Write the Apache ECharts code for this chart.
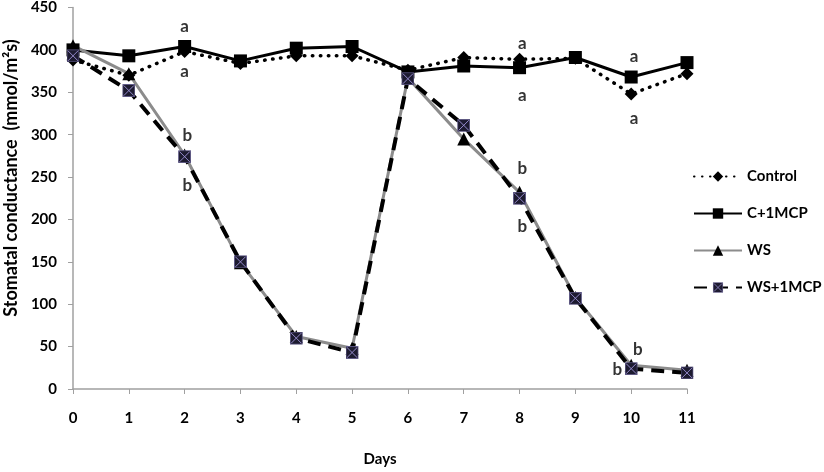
<!DOCTYPE html>
<html>
<head>
<meta charset="utf-8">
<script src="https://cdn.jsdelivr.net/npm/echarts@6/dist/echarts.min.js"></script>
<style>
  html, body { margin: 0; padding: 0; background: #fff; }
  #chart { width: 824px; height: 472px; }
</style>
</head>
<body>
<div id="chart"></div>
<script>
const days = [0, 1, 2, 3, 4, 5, 6, 7, 8, 9, 10, 11];
const control = [388, 370, 398, 384, 393, 393, 376, 391, 389, 390, 348, 372];
const c1mcp = [400, 393, 404, 387, 402, 404, 374, 381, 379, 391, 368, 385];
const ws = [405, 372, 276, 149, 62, 48, 367, 295, 232, 108, 28, 22];
const ws1mcp = [393, 352, 274, 150, 60, 43, 366, 311, 225, 107, 24, 19];

// significance letters: [day, value, letter]
const letters = [
  [2, 427, "a"], [2, 374, "a"], [2.05, 299, "b"], [2.05, 240, "b"],
  [8.05, 408, "a"], [8.05, 346, "a"], [8.05, 260, "b"], [8.05, 192, "b"],
  [10.05, 392, "a"], [10.05, 319, "a"], [10.12, 46, "b"], [9.75, 23, "b"],
];

const FONT = "Lato";
const pairs = (vals) => days.map((d, i) => [d, vals[i]]);

const xSquare = "image://data:image/svg+xml;charset=utf-8," + encodeURIComponent(
  "<svg xmlns='http://www.w3.org/2000/svg' width='14' height='14'>" +
  "<rect x='0.5' y='0.5' width='13' height='13' fill='#1d1b30' stroke='#5e5888'/>" +
  "<path d='M1.5 1.5L12.5 12.5M12.5 1.5L1.5 12.5' stroke='#9d92d6' stroke-width='1'/></svg>"
);

const chart = echarts.init(document.getElementById("chart"));
chart.setOption({
  animation: false,
  backgroundColor: "#fff",
  grid: { left: 73, right: 137, top: 4, bottom: 69 },
  legend: {
    data: ["Control", "C+1MCP", "WS", "WS+1MCP"],
    orient: "vertical",
    left: 688,
    top: 164,
    itemWidth: 48,
    itemHeight: 13,
    itemGap: 22,
    textStyle: { fontFamily: FONT, fontWeight: "bold", fontSize: 15, color: "#000" },
  },
  graphic: [{
    type: "text",
    x: 11,
    y: 178,
    rotation: Math.PI / 2,
    style: {
      text: "Stomatal conductance  (mmol/m²s)",
      font: "bold 18px Lato",
      fill: "#000",
      align: "center",
      verticalAlign: "middle",
    },
  }],
  xAxis: {
    type: "value",
    min: 0,
    max: 11,
    interval: 1,
    name: "Days",
    nameLocation: "middle",
    nameGap: 63,
    nameTextStyle: { fontFamily: FONT, fontWeight: "bold", fontSize: 15, color: "#000" },
    axisLine: { lineStyle: { color: "#a0a0a0", width: 1.5 } },
    axisTick: { show: true, length: 5, lineStyle: { color: "#a0a0a0" } },
    axisLabel: { margin: 22, fontFamily: FONT, fontWeight: "bold", fontSize: 15, color: "#000" },
    splitLine: { show: false },
  },
  yAxis: {
    type: "value",
    min: 0,
    max: 450,
    interval: 50,
    axisLine: { show: true, lineStyle: { color: "#a0a0a0", width: 1.5 } },
    axisTick: { show: true, length: 5, lineStyle: { color: "#a0a0a0" } },
    axisLabel: { margin: 16, fontFamily: FONT, fontWeight: "bold", fontSize: 15, color: "#000" },
    splitLine: { show: false },
  },
  series: [
    {
      name: "Control",
      type: "line",
      data: pairs(control),
      symbol: "diamond",
      symbolSize: 13,
      itemStyle: { color: "#000" },
      lineStyle: { color: "#000", width: 3.5, type: [0.5, 7.5], cap: "round" },
    },
    {
      name: "C+1MCP",
      type: "line",
      data: pairs(c1mcp),
      symbol: "rect",
      symbolSize: 13,
      itemStyle: { color: "#000" },
      lineStyle: { color: "#000", width: 3 },
    },
    {
      name: "WS",
      type: "line",
      data: pairs(ws),
      symbol: "triangle",
      symbolSize: 13,
      itemStyle: { color: "#000" },
      lineStyle: { color: "#8c8c8c", width: 3 },
    },
    {
      name: "WS+1MCP",
      type: "line",
      data: pairs(ws1mcp),
      symbol: xSquare,
      symbolSize: 13,
      itemStyle: { color: "#1d1b30" },
      lineStyle: { color: "#000", width: 4, type: [13, 8] },
    },
    {
      name: "letters",
      type: "scatter",
      data: letters.map((l) => ({ value: [l[0], l[1]], name: l[2] })),
      symbolSize: 1,
      itemStyle: { color: "rgba(0,0,0,0)" },
      silent: true,
      z: 10,
      label: {
        show: true,
        position: "inside",
        formatter: "{b}",
        fontFamily: FONT,
        fontWeight: "bold",
        fontSize: 17,
        color: "#000",
      },
    },
  ],
});
</script>
</body>
</html>
